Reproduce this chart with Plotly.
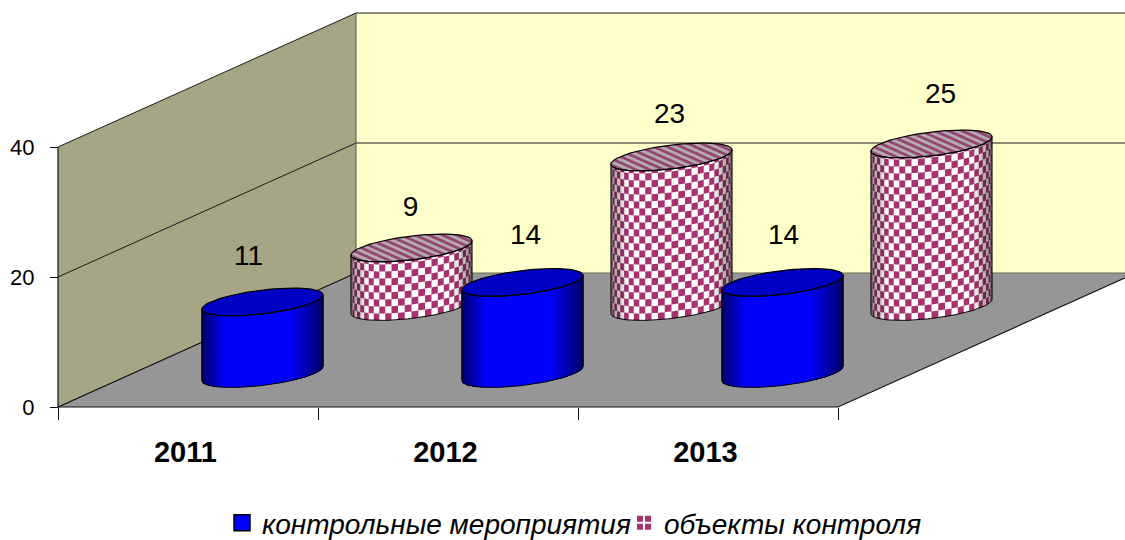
import math
import plotly.graph_objects as go

# ---- data
years = ["2011", "2012", "2013"]
series_names = ["контрольные мероприятия", "объекты контроля"]
control_events = [11, 14, 14]
control_objects = [9, 23, 25]
value_ticks = [0, 20, 40]

# ---- scene geometry: 1 category = 260 px, 1 value unit = 6.5 px
W, H = 1125, 540
CAT_PX, VAL_PX = 260.0, 6.5
ORIGIN_X, ORIGIN_Y = 58.0, 407.0
DEPTH_PX = (298.0, 134.0)
DX, DY = DEPTH_PX[0] / CAT_PX, DEPTH_PX[1] / VAL_PX
N_CAT = len(years)
V_MAX = value_ticks[-1]
R_CAT, R_DEPTH = 0.2, 0.104
SERIES_DEPTH = [0.25, 0.75]
THETA0 = math.atan2(R_DEPTH * DX, R_CAT)

COL_WALL_L, COL_WALL_B, COL_FLOOR = "#A6A686", "#FFFFCC", "#969696"
COL_CHECK = "#A8326F"
# label nudges relative to the cylinder top, px (dx, up)
LABEL_NUDGE = [[(-14, 44), (3, 46), (1, 46)], [(-1, 39), (-2, 41), (9, 48)]]


def P(cat, depth, val):
    return cat + depth * DX, val + depth * DY


fig = go.Figure()


def poly(pts_list, fill, line=None, width=0.0, close=True):
    xs, ys = [], []
    for pts in pts_list:
        seq = list(pts) + ([pts[0]] if close else [])
        xs += [p[0] for p in seq] + [None]
        ys += [p[1] for p in seq] + [None]
    fig.add_trace(go.Scatter(
        x=xs, y=ys, mode="lines" if (line and width) else "none",
        fill="toself" if fill else None, fillcolor=fill,
        line=dict(color=line or "rgba(0,0,0,0)", width=width),
        hoverinfo="skip", showlegend=False))


def stroke(pts, color="#000000", width=1.0):
    fig.add_trace(go.Scatter(
        x=[p[0] for p in pts], y=[p[1] for p in pts], mode="lines",
        line=dict(color=color, width=width), hoverinfo="skip", showlegend=False))


def rim(cat, depth, val, th):
    return P(cat + R_CAT * math.cos(th), depth + R_DEPTH * math.sin(th), val)


def arc(cat, depth, val, a, b, n=12):
    return [rim(cat, depth, val, a + (b - a) * k / n) for k in range(n + 1)]


def side_quad(cat, depth, v0, v1, a, b, n=3):
    return arc(cat, depth, v0, a, b, n) + arc(cat, depth, v1, b, a, n)


def xnorm(t):
    return (1 - math.cos(math.pi * t)) / 2


def blue_shade(x):
    if x < 0.2:
        k = x / 0.2
        return f"rgb(0,0,{int(105 + 150 * k)})"
    if x > 0.72:
        k = (x - 0.72) / 0.28
        return f"rgb(0,0,{int(255 - 150 * k)})"
    return "rgb(0,0,255)"


def outline(cat, depth, val):
    a, b = THETA0 - math.pi, THETA0
    sil = arc(cat, depth, 0, a, b, 48) + arc(cat, depth, val, b, a, 48)
    poly([sil], None, "#000000", 1.0)
    stroke(arc(cat, depth, val, 0, 2 * math.pi, 72), "#000000", 1.2)


def blue_cylinder(i, val):
    cat, depth = i + 0.5, SERIES_DEPTH[0]
    a, b = THETA0 - math.pi, THETA0
    # paint inward-shrinking strips from each rim so that no seams show
    n = 60
    poly([side_quad(cat, depth, 0, val, a, b, 48)], "rgb(0,0,255)")
    keys = [k for k in range(n) if xnorm((k + 0.5) / n) < 0.2]
    for k in reversed(keys):
        tb = a + (b - a) * (k + 1) / n
        poly([side_quad(cat, depth, 0, val, a, tb, 6)], blue_shade(xnorm((k + 0.5) / n)))
    keys = [k for k in range(n) if xnorm((k + 0.5) / n) > 0.72]
    for k in keys:
        ta = a + (b - a) * k / n
        poly([side_quad(cat, depth, 0, val, ta, b, 6)], blue_shade(xnorm((k + 0.5) / n)))
    poly([arc(cat, depth, val, 0, 2 * math.pi, 72)], "#0000C4")
    outline(cat, depth, val)


def check_cylinder(i, val):
    cat, depth = i + 0.5, SERIES_DEPTH[1]
    a, b = THETA0 - math.pi, THETA0
    poly([side_quad(cat, depth, 0, val, a, b, 48)], "#FFFFFF")
    cols, row_h = 28, 7.0 / VAL_PX
    cells = []
    rows = int(math.ceil(val / row_h))
    for r in range(rows):
        v0, v1 = r * row_h, min(val, (r + 1) * row_h)
        for c in range(cols):
            if (r + c) % 2 == 0:
                ta = a + (b - a) * c / cols
                tb = a + (b - a) * (c + 1) / cols
                cells.append(side_quad(cat, depth, v0, v1, ta, tb, 2))
    poly(cells, COL_CHECK)
    n = 40
    for k in range(n):
        x = xnorm((k + 0.5) / n)
        alpha = max((0.14 - x) / 0.14 * 0.45, (x - 0.84) / 0.16 * 0.5, 0)
        if alpha > 0:
            ta, tb = a + (b - a) * k / n, a + (b - a) * (k + 1) / n
            poly([side_quad(cat, depth, 0, val, ta, tb)], f"rgba(0,0,0,{alpha:.3f})")
    # flattened checker on the lid reads as diagonal stripes
    poly([arc(cat, depth, val, 0, 2 * math.pi, 72)], "#B4ABB1")
    y_r, x_r, x_sk = R_DEPTH * DEPTH_PX[1], R_CAT * CAT_PX, R_DEPTH * DEPTH_PX[0]
    dv = -0.45 / y_r
    du = (1 - x_sk * dv) / x_r
    norm = math.hypot(du, dv)
    du, dv = du / norm, dv / norm
    nu, nv = -dv, du
    bands = []
    step = 0.085
    s = -1.0
    while s < 1.0:
        s1 = min(1.0, s + step)
        pts = []
        for sg, ss in ((-1, s), (1, s1)):
            L = math.sqrt(max(0.0, 1 - ss * ss))
            for q in (-L, L) if sg < 0 else (L, -L):
                uu, vv = nu * ss + du * q, nv * ss + dv * q
                pts.append(P(cat + R_CAT * uu, depth + R_DEPTH * vv, val))
        bands.append(pts)
        s += 2 * step
    poly(bands, "#964672")
    outline(cat, depth, val)


# ---- walls and floor
poly([[P(0, 0, 0), P(0, 1, 0), P(0, 1, V_MAX), P(0, 0, V_MAX)]], COL_WALL_L)
poly([[P(0, 1, 0), P(N_CAT, 1, 0), P(N_CAT, 1, V_MAX), P(0, 1, V_MAX)]], COL_WALL_B)
poly([[P(0, 0, 0), P(N_CAT, 0, 0), P(N_CAT, 1, 0), P(0, 1, 0)]], COL_FLOOR)
for v in value_ticks[1:]:
    stroke([P(0, 0, v), P(0, 1, v), P(N_CAT, 1, v)], "#1a1a1a", 1.0)
stroke([P(0, 1, 0), P(N_CAT, 1, 0)], "#6b6b50", 1.0)
stroke([P(0, 1, 0), P(0, 1, V_MAX)], "#55553f", 1.0)
stroke([P(0, 0, V_MAX), P(0, 0, 0), P(0, 1, 0)], "#111111", 1.2)
stroke([P(0, 0, 0), P(N_CAT, 0, 0), P(N_CAT, 1, 0)], "#111111", 1.2)

# ---- cylinders, back row first
for i, v in enumerate(control_objects):
    check_cylinder(i, v)
for i, v in enumerate(control_events):
    blue_cylinder(i, v)

# ---- value labels
for s, (vals, d) in enumerate(zip((control_events, control_objects), SERIES_DEPTH)):
    xs, ys = [], []
    for i, v in enumerate(vals):
        x, y = P(i + 0.5, d, v)
        xs.append(x + LABEL_NUDGE[s][i][0] / CAT_PX)
        ys.append(y + LABEL_NUDGE[s][i][1] / VAL_PX)
    fig.add_trace(go.Scatter(
        x=xs, y=ys, mode="text", text=[str(v) for v in vals], textposition="middle center",
        textfont=dict(family="Liberation Sans", size=28, color="#000000"),
        hoverinfo="skip", showlegend=False))

# ---- legend entries
fig.add_trace(go.Scatter(
    x=[None], y=[None], mode="markers", name=series_names[0],
    marker=dict(symbol="square", size=16, color="#0000FF", line=dict(color="#000000", width=1.5))))
fig.add_trace(go.Scatter(
    x=[None], y=[None], mode="markers", name=series_names[1],
    marker=dict(symbol="square-cross", size=16, color=COL_CHECK, line=dict(color="#FFFFFF", width=2))))

x_unit_lo = -ORIGIN_X / CAT_PX
x_unit_hi = (W - ORIGIN_X) / CAT_PX
y_unit_lo = (ORIGIN_Y - H) / VAL_PX
y_unit_hi = ORIGIN_Y / VAL_PX

fig.update_layout(
    width=W, height=H, margin=dict(l=0, r=0, t=0, b=0, autoexpand=False),
    paper_bgcolor="#FFFFFF", plot_bgcolor="#FFFFFF",
    font=dict(family="Liberation Sans", color="#000000"),
    xaxis=dict(
        range=[x_unit_lo, x_unit_hi], domain=[0, 1], anchor="free", position=(H - ORIGIN_Y) / H,
        showgrid=False, zeroline=False, showline=False, fixedrange=True,
        tickmode="array", tickvals=[i + 0.49 for i in range(N_CAT)], ticktext=years,
        ticks="", ticklabelstandoff=25,
        tickfont=dict(size=29, family="Liberation Sans", weight="bold"),
        minor=dict(ticks="outside", tickmode="array", tickvals=list(range(N_CAT + 1)),
                   ticklen=12, tickcolor="#111111", tickwidth=1, showgrid=False)),
    yaxis=dict(
        range=[y_unit_lo, y_unit_hi], domain=[0, 1], anchor="free", position=ORIGIN_X / W,
        showgrid=False, zeroline=False, showline=False, fixedrange=True,
        tickmode="array", tickvals=value_ticks, ticktext=[str(v) for v in value_ticks],
        ticks="outside", ticklen=8, tickcolor="#111111", tickwidth=1,
        ticklabelstandoff=11, tickfont=dict(size=22, family="Liberation Sans")),
    legend=dict(orientation="h", x=222 / W, xanchor="left", y=(H - 523) / H, yanchor="middle",
                font=dict(size=28, style="italic", family="Liberation Sans"),
                bgcolor="rgba(0,0,0,0)", itemwidth=30,
                entrywidth=357, entrywidthmode="pixels"),
)
fig.write_html("out.html", config=dict(displayModeBar=False),
               post_script="document.body.style.margin='0';")
